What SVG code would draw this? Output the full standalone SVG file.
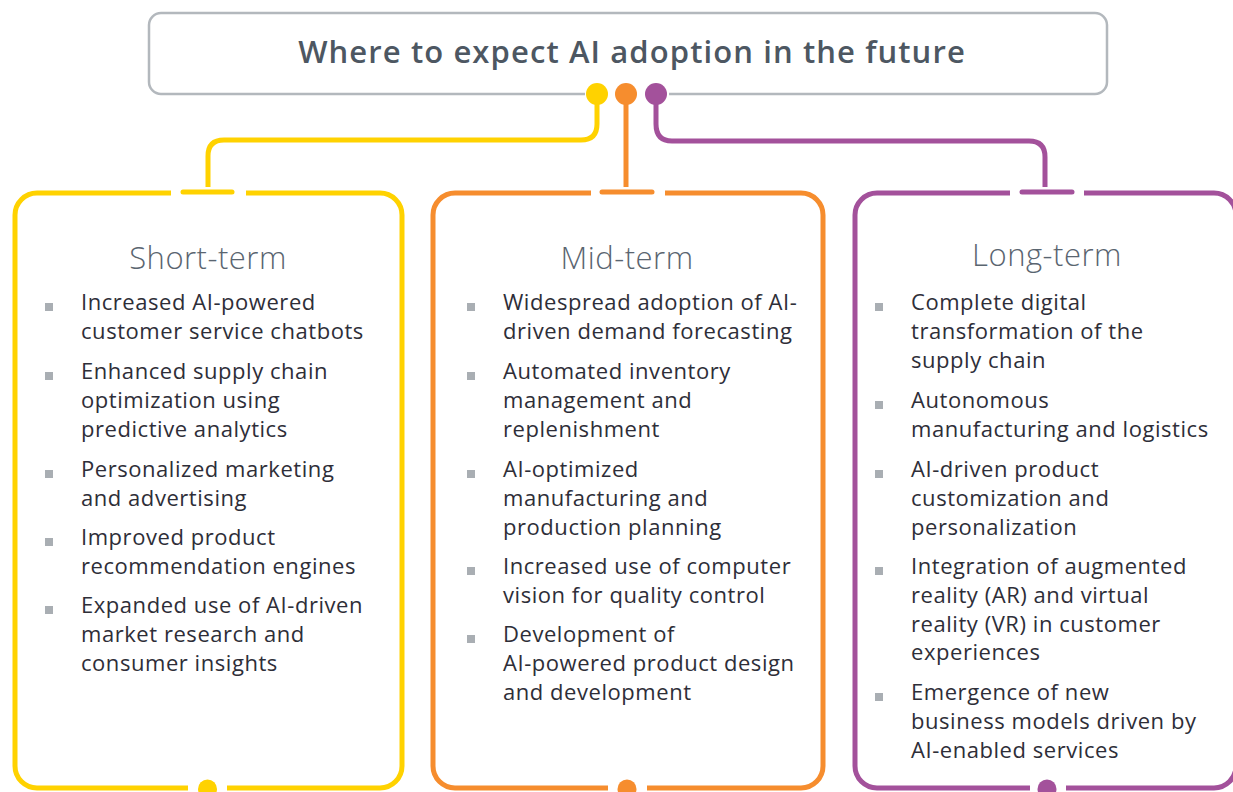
<svg xmlns="http://www.w3.org/2000/svg" width="1233" height="792" viewBox="0 0 1233 792">
<style>
.box{fill:none;stroke-width:5;stroke-linecap:butt}
.seg{fill:none;stroke-width:5;stroke-linecap:round}
.y{stroke:#FFD200}.o{stroke:#F68D2E}.p{stroke:#A3519B}
.conn{fill:none;stroke-width:5}
.head{font-family:"Open Sans","Liberation Sans",sans-serif;font-size:31px;font-weight:350;fill:#5a6570;text-anchor:middle;letter-spacing:0.5px}
.item{font-family:"Open Sans","Liberation Sans",sans-serif;font-size:22px;fill:#2e2e38;letter-spacing:0.55px}
.bul{fill:#a9aeb3}
</style>
<rect width="1233" height="792" fill="#ffffff"/>
<g id="title">
<path d="M585,94 H161 A12,12 0 0 1 149,82 V25 A12,12 0 0 1 161,13 H1095 A12,12 0 0 1 1107,25 V82 A12,12 0 0 1 1095,94 H669" fill="none" stroke="#b3b8bd" stroke-width="2.5"/>
<text x="632" y="63" text-anchor="middle" font-family="Open Sans, Liberation Sans, sans-serif" font-size="31" font-weight="560" fill="#4d5762" letter-spacing="1.1">Where to expect AI adoption in the future</text>
</g>
<g id="connectors">
<path class="conn y" d="M597,94 V124 Q597,140 581,140 H224 Q208,140 208,156 V187"/>
<path class="conn o" d="M626,94 V187"/>
<path class="conn p" d="M656,94 V124 Q656,141 672,141 H1029 Q1045,141 1045,157 V187"/>
<circle cx="597" cy="94" r="11" fill="#FFD200"/>
<circle cx="626" cy="94" r="11" fill="#F68D2E"/>
<circle cx="656" cy="94" r="11" fill="#A3519B"/>
</g>
<g id="short-term">
<path class="box y" d="M171,193 H37 A22,22 0 0 0 15,215 V766 A22,22 0 0 0 37,788 H188 M227,788 H380 A22,22 0 0 0 402,766 V215 A22,22 0 0 0 380,193 H246"/>
<path class="seg y" d="M183,192 H232"/>
<circle cx="207.5" cy="789" r="9.5" fill="#FFD200"/>
<text class="head" x="208" y="269">Short-term</text>
<rect class="bul" x="45" y="303" width="8" height="8"/>
<rect class="bul" x="45" y="372" width="8" height="8"/>
<rect class="bul" x="45" y="470" width="8" height="8"/>
<rect class="bul" x="45" y="538" width="8" height="8"/>
<rect class="bul" x="45" y="606" width="8" height="8"/>
<text class="item" x="81" y="310">Increased AI-powered<tspan x="81" dy="28.8">customer service chatbots</tspan></text>
<text class="item" x="81" y="379">Enhanced supply chain<tspan x="81" dy="28.8">optimization using</tspan><tspan x="81" dy="28.8">predictive analytics</tspan></text>
<text class="item" x="81" y="477">Personalized marketing<tspan x="81" dy="28.8">and advertising</tspan></text>
<text class="item" x="81" y="545">Improved product<tspan x="81" dy="28.8">recommendation engines</tspan></text>
<text class="item" x="81" y="613">Expanded use of AI-driven<tspan x="81" dy="28.8">market research and</tspan><tspan x="81" dy="28.8">consumer insights</tspan></text>
</g>
<g id="mid-term">
<path class="box o" d="M591,193 H455 A22,22 0 0 0 433,215 V766 A22,22 0 0 0 455,788 H608 M647,788 H801 A22,22 0 0 0 823,766 V215 A22,22 0 0 0 801,193 H665"/>
<path class="seg o" d="M602,192 H652"/>
<circle cx="627" cy="789" r="9.5" fill="#F68D2E"/>
<text class="head" x="627" y="269">Mid-term</text>
<rect class="bul" x="467" y="303" width="8" height="8"/>
<rect class="bul" x="467" y="372" width="8" height="8"/>
<rect class="bul" x="467" y="470" width="8" height="8"/>
<rect class="bul" x="467" y="567" width="8" height="8"/>
<rect class="bul" x="467" y="635" width="8" height="8"/>
<text class="item" x="503" y="310">Widespread adoption of AI-<tspan x="503" dy="28.8">driven demand forecasting</tspan></text>
<text class="item" x="503" y="379">Automated inventory<tspan x="503" dy="28.8">management and</tspan><tspan x="503" dy="28.8">replenishment</tspan></text>
<text class="item" x="503" y="477">AI-optimized<tspan x="503" dy="28.8">manufacturing and</tspan><tspan x="503" dy="28.8">production planning</tspan></text>
<text class="item" x="503" y="574">Increased use of computer<tspan x="503" dy="28.8">vision for quality control</tspan></text>
<text class="item" x="503" y="642">Development of<tspan x="503" dy="28.8">AI-powered product design</tspan><tspan x="503" dy="28.8">and development</tspan></text>
</g>
<g id="long-term">
<path class="box p" d="M1010,193 H877 A22,22 0 0 0 855,215 V766 A22,22 0 0 0 877,788 H1030 M1066,788 H1214 A22,22 0 0 0 1236,766 V215 A22,22 0 0 0 1214,193 H1084"/>
<path class="seg p" d="M1022,192 H1072"/>
<circle cx="1047" cy="789" r="9.5" fill="#A3519B"/>
<text class="head" x="1047" y="266">Long-term</text>
<rect class="bul" x="875" y="303" width="8" height="8"/>
<rect class="bul" x="875" y="401" width="8" height="8"/>
<rect class="bul" x="875" y="470" width="8" height="8"/>
<rect class="bul" x="875" y="567" width="8" height="8"/>
<rect class="bul" x="875" y="693" width="8" height="8"/>
<text class="item" x="911" y="310">Complete digital<tspan x="911" dy="28.8">transformation of the</tspan><tspan x="911" dy="28.8">supply chain</tspan></text>
<text class="item" x="911" y="408">Autonomous<tspan x="911" dy="28.8">manufacturing and logistics</tspan></text>
<text class="item" x="911" y="477">AI-driven product<tspan x="911" dy="28.8">customization and</tspan><tspan x="911" dy="28.8">personalization</tspan></text>
<text class="item" x="911" y="574">Integration of augmented<tspan x="911" dy="28.8">reality (AR) and virtual</tspan><tspan x="911" dy="28.8">reality (VR) in customer</tspan><tspan x="911" dy="28.8">experiences</tspan></text>
<text class="item" x="911" y="700">Emergence of new<tspan x="911" dy="28.8">business models driven by</tspan><tspan x="911" dy="28.8">AI-enabled services</tspan></text>
</g>
</svg>
